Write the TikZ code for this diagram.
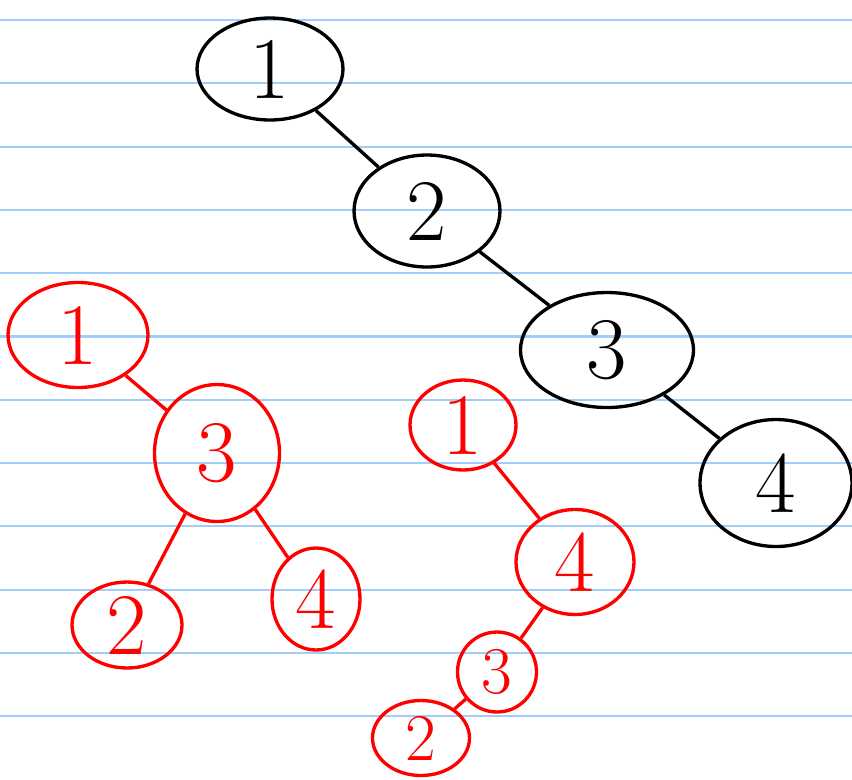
\documentclass[tikz,border=0pt]{standalone}
\usepackage{xcolor}
\usepackage{tikz}
\usetikzlibrary{shapes.geometric}

\definecolor{ruling}{RGB}{160,205,250}
\definecolor{inkred}{RGB}{255,0,0}

\begin{document}
\begin{tikzpicture}[x=0.02cm, y=-0.02cm,
    every node/.style={draw, ellipse, inner sep=0pt, line width=1.9pt},
    bnode/.style={draw=black, text=black, font=\fontsize{50}{50}\selectfont},
    rnode/.style={draw=inkred, text=inkred, font=\fontsize{50}{50}\selectfont},
    small/.style={font=\fontsize{38}{38}\selectfont},
    bedge/.style={line width=1.9pt, black},
    redge/.style={line width=1.9pt, inkred}]
  \useasboundingbox (0,0) rectangle (852,779);
  \fill[white] (0,0) rectangle (852,779);
  % ruled paper
  \foreach \k in {0,...,11}
    \draw[ruling, line width=1.2pt] (0,20+63.3*\k) -- (852,20+63.3*\k);

  % black chain
  \node[bnode, minimum width=2.92cm, minimum height=2.04cm] (b1) at (270,69) {1};
  \node[bnode, minimum width=2.92cm, minimum height=2.24cm] (b2) at (427,211) {2};
  \node[bnode, minimum width=3.46cm, minimum height=2.30cm] (b3) at (607,350) {3};
  \node[bnode, minimum width=3.04cm, minimum height=2.54cm] (b4) at (776,483) {4};

  \draw[bedge] (b1) -- (b2);
  \draw[bedge] (b2) -- (b3);
  \draw[bedge] (b3) -- (b4);

  % red tree, left
  \node[rnode, minimum width=2.80cm, minimum height=2.10cm] (l1) at (78,335) {1};
  \node[rnode, minimum width=2.50cm, minimum height=2.74cm] (l3) at (217,453) {3};
  \node[rnode, minimum width=2.20cm, minimum height=1.72cm] (l2) at (127,625) {2};
  \node[rnode, minimum width=1.76cm, minimum height=2.04cm] (l4) at (316,599) {4};

  \draw[redge] (l1) -- (l3);
  \draw[redge] (l3) -- (l2);
  \draw[redge] (l3) -- (l4);

  % red tree, right
  \node[rnode, minimum width=2.12cm, minimum height=1.80cm] (r1) at (463,425) {1};
  \node[rnode, minimum width=2.36cm, minimum height=2.10cm] (r4) at (575,562) {4};
  \node[rnode, small, minimum width=1.58cm, minimum height=1.60cm] (r3) at (497,672) {3};
  \node[rnode, small, minimum width=1.94cm, minimum height=1.50cm] (r2) at (421,738) {2};

  \draw[redge] (r1) -- (r4);
  \draw[redge] (r4) -- (r3);
  \draw[redge] (r3) -- (r2);
\end{tikzpicture}
\end{document}
